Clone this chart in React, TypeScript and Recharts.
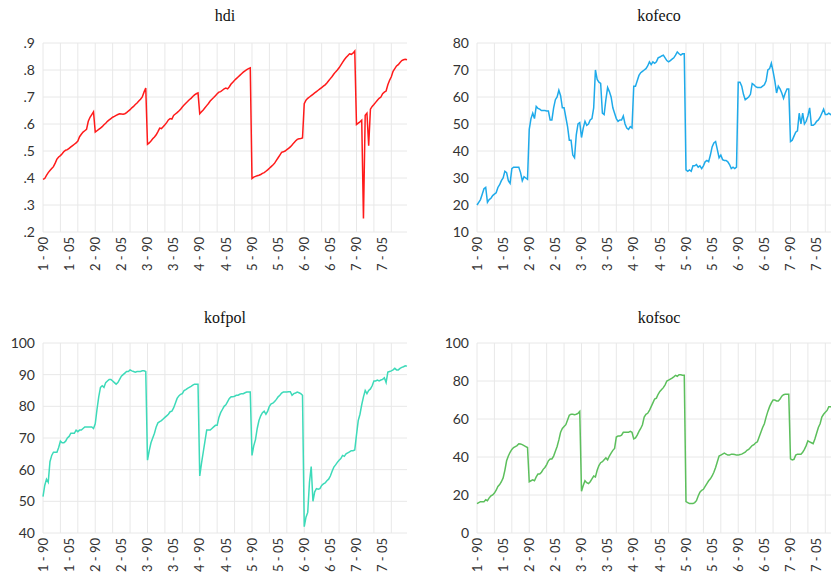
import React from 'react';
import { LineChart, Line, XAxis, YAxis, CartesianGrid } from 'recharts';

// Panel data: 7 countries x 30 years (1990-2019), in order
const COUNTRY_COUNT = 7;
const YEARS_PER_COUNTRY = 30;
const START_YEAR = 1990;

const hdi = [
  // country 1
  0.395, 0.398, 0.41, 0.42, 0.428, 0.435, 0.442, 0.455, 0.47, 0.478, 0.483, 0.49, 0.498, 0.503, 0.505, 0.51, 0.515, 0.52, 0.525, 0.53, 0.537, 0.553, 0.562, 0.57, 0.575, 0.58, 0.61, 0.625, 0.635, 0.645,
  // country 2
  0.57, 0.575, 0.58, 0.585, 0.59, 0.597, 0.603, 0.61, 0.615, 0.62, 0.625, 0.628, 0.632, 0.635, 0.638, 0.637, 0.636, 0.638, 0.642, 0.648, 0.653, 0.66, 0.665, 0.672, 0.678, 0.685, 0.692, 0.7, 0.718, 0.733,
  // country 3
  0.525, 0.53, 0.537, 0.545, 0.552, 0.56, 0.572, 0.585, 0.583, 0.59, 0.597, 0.605, 0.615, 0.62, 0.618, 0.632, 0.637, 0.642, 0.648, 0.655, 0.663, 0.67, 0.677, 0.683, 0.69, 0.695, 0.702, 0.708, 0.712, 0.715,
  // country 4
  0.638, 0.645, 0.652, 0.66, 0.668, 0.676, 0.685, 0.692, 0.698, 0.705, 0.712, 0.718, 0.72, 0.725, 0.73, 0.733, 0.73, 0.738, 0.748, 0.755, 0.762, 0.768, 0.774, 0.78, 0.786, 0.792, 0.797, 0.801, 0.805, 0.808,
  // country 5
  0.398, 0.403, 0.406, 0.408, 0.41, 0.413, 0.417, 0.42, 0.425, 0.43, 0.436, 0.442, 0.448, 0.455, 0.465, 0.475, 0.485, 0.495, 0.497, 0.5, 0.505, 0.51, 0.515, 0.522, 0.53, 0.537, 0.543, 0.545, 0.546, 0.548,
  // country 6
  0.675, 0.688, 0.695, 0.7, 0.705, 0.71, 0.715, 0.72, 0.725, 0.73, 0.735, 0.74, 0.745, 0.752, 0.76, 0.768, 0.776, 0.785, 0.793, 0.8, 0.808, 0.818, 0.828, 0.838, 0.846, 0.853, 0.86, 0.858, 0.862, 0.87,
  // country 7
  0.598, 0.603, 0.608, 0.614, 0.25, 0.632, 0.64, 0.52, 0.655, 0.665, 0.672, 0.68, 0.688, 0.695, 0.7, 0.712, 0.718, 0.722, 0.745, 0.762, 0.775, 0.795, 0.805, 0.815, 0.82, 0.828, 0.835, 0.838, 0.84, 0.838,
];

const kofeco = [
  20, 21, 22, 24, 26, 26.5, 21, 22, 22.5, 23.5, 24, 24.5, 26.5, 27.5, 29, 30, 32.5, 32, 29, 28, 33.5, 34, 34, 34, 34, 32, 29, 30.5, 30, 29.5,
  48, 52, 54, 52, 56.5, 55.8, 55.5, 55, 55, 55, 54.8, 54.8, 51.5, 51.5, 56, 59, 60, 62.5, 60.5, 56, 56, 52.5, 49, 44, 44, 38.5, 37.5, 46, 50, 50.5,
  45, 48.5, 51, 49.5, 50, 51.5, 52, 56, 70, 66.5, 65.5, 65, 54, 53.5, 59, 63.5, 62, 60, 56, 54, 52, 51, 51.5, 51.5, 53, 50, 48.5, 48, 49, 48.5,
  64, 64, 66, 68, 69, 69.5, 70, 70.5, 71.5, 73, 72, 73, 72.5, 73, 74.5, 74.8, 75.2, 75.5, 74.5, 73.5, 73, 73.5, 74, 74.5, 75.5, 76.7, 76, 75.5, 76, 76,
  33, 32.5, 33, 32.5, 34.5, 34.5, 35, 34, 34.5, 33.5, 34.5, 36, 36.5, 36, 38.5, 41.5, 43, 43.5, 40.5, 37.5, 38.5, 36.8, 36.5, 36.5, 36, 35, 33.5, 34, 33.5, 34,
  65.5, 65.5, 64, 61, 59, 59.5, 60, 61, 65, 64.5, 63.8, 63.5, 63.5, 63.5, 64, 64.5, 66, 70, 70.5, 72.5, 69.5, 66, 61.5, 64, 63, 61.5, 59.5, 61.5, 63, 63,
  43.5, 44, 45.5, 47, 47.5, 54, 50, 54, 50, 51, 53, 56, 49.5, 49.5, 50, 51, 51.5, 52.5, 54, 55.5, 53.5, 53.5, 54, 53.5, 54, 54.5, 55, 55.5, 56, 56,
];

const kofpol = [
  51.5, 55, 57, 56, 62.5, 64.5, 65.5, 65.5, 65.5, 67, 69, 68.5, 68.5, 69, 70, 70.5, 71.5, 71.5, 71.5, 72.5, 72, 72.5, 72.5, 73, 73.5, 73.5, 73.5, 73.5, 73.5, 73,
  74.5, 79, 83, 86, 86.5, 86, 87.5, 88, 88.5, 88.5, 88, 87.5, 87, 87.5, 88.5, 89.5, 90, 90.5, 91, 91, 91.5, 91.2, 91, 90.8, 91, 91, 91, 91.2, 91.2, 91,
  63, 66, 68.5, 70, 71.5, 73.5, 74.8, 75.2, 75.5, 76, 76.5, 77, 77.5, 78.3, 78.5, 79.5, 81, 82.5, 83.3, 83.8, 84, 85, 85.3, 85.7, 86, 86.3, 86.7, 87, 87, 87,
  58, 62, 65.5, 69, 72.5, 72.5, 72.5, 73, 73.5, 74, 74, 76.5, 78, 79, 80, 80.5, 81.5, 82.5, 83, 83, 83.2, 83.5, 83.5, 83.8, 84, 84, 84.3, 84.5, 84.5, 84.5,
  64.5, 67.5, 69.5, 73, 75.5, 77, 78, 78.5, 77.5, 78.5, 80, 80.8, 81, 81.5, 82.2, 83, 83.5, 84.2, 84.5, 84.5, 84.5, 84.6, 84.6, 83.5, 84, 84.2, 84.5, 84.3, 84, 83.5,
  42, 45, 46.5, 56, 61, 50, 53, 54, 53.8, 54, 55, 55.5, 55.8, 56.5, 57, 58, 59.5, 60.8, 61.5, 62.3, 63, 63.5, 64.5, 64.2, 65, 65.3, 65.6, 66, 66, 66.2,
  71, 75.5, 77.5, 80.5, 83, 85, 84, 85, 85.5, 86.5, 88, 88, 88.3, 88, 88.3, 88.5, 89, 87.5, 90.8, 91, 91.2, 91.5, 92, 91.5, 91.5, 92, 92.3, 92.5, 92.8, 92.7,
];

const kofsoc = [
  15.5, 16, 16.5, 16.5, 16.5, 17.5, 17, 18.5, 19.5, 20, 21, 22.5, 24.5, 25.5, 27, 29, 33, 38, 40.5, 42.5, 44, 45, 45.5, 46, 47, 46.8, 46.5, 46, 45.5, 45,
  27, 27.5, 28, 27.5, 29.5, 31, 31, 32, 33.5, 34.5, 36, 38, 39, 39, 40.5, 43, 45.5, 49, 53, 55, 56, 57, 59.5, 62, 62.5, 62.5, 62.3, 62.5, 63, 64,
  22, 25, 27.5, 26.5, 26, 27, 28.5, 30, 29.5, 33, 35.5, 37, 37.5, 38.5, 39.5, 38.5, 40.5, 42, 43.5, 44.5, 50.5, 51, 51, 51.5, 53, 53, 53, 53, 53.5, 53,
  49.5, 50, 51.5, 53.5, 55, 57, 61, 62.5, 63, 64.5, 66.5, 68.5, 70.5, 71, 73, 74.5, 75.5, 76.5, 78, 80, 80.5, 81, 81.5, 82.2, 83, 82.5, 83.3, 83.3, 83, 83,
  16.5, 16, 15.5, 15.5, 15.5, 16, 17, 19.5, 21.5, 22.5, 23, 24.5, 26, 27.5, 28.5, 30, 32, 34.5, 37.5, 40.5, 41, 41.5, 42, 41.5, 41, 41, 41.5, 41.5, 41.3, 41,
  41, 41.3, 41.5, 42, 42.5, 43.5, 44, 45, 46, 46.5, 47.5, 48, 50.5, 53, 55.5, 57.5, 61, 64, 66.5, 68.5, 70, 70, 69.5, 69.5, 70.5, 72, 72.8, 73, 73, 73,
  39, 38.5, 38.8, 41, 41.5, 41.5, 41.5, 42.5, 44, 46, 48.5, 48, 47.5, 47, 49.5, 52.5, 55.5, 57.5, 61, 62.5, 63.5, 64.5, 66.5, 66.5, 66, 66.5, 67, 67.5, 68, 68,
];

// Axis tick definitions
const xLabelTicks = [0, 15, 30, 45, 60, 75, 90, 105, 120, 135, 150, 165, 180, 195];
const xGridTicks = [0, 10, 20, 30, 40, 50, 60, 70, 80, 90, 100, 110, 120, 130, 140, 150, 160, 170, 180, 190, 200];
const hdiTicks = [0.2, 0.3, 0.4, 0.5, 0.6, 0.7, 0.8, 0.9];
const kofecoTicks = [10, 20, 30, 40, 50, 60, 70, 80];
const kofpolTicks = [40, 50, 60, 70, 80, 90, 100];
const kofsocTicks = [0, 20, 40, 60, 80, 100];

const LAST = COUNTRY_COUNT * YEARS_PER_COUNTRY - 1;

const toRows = (vals: number[]) => vals.map((v, i) => ({ i, v }));

const xLabel = (i: number) => {
  const c = Math.floor(i / YEARS_PER_COUNTRY) + 1;
  const y = START_YEAR + (i % YEARS_PER_COUNTRY);
  return `${c} - ${String(y % 100).padStart(2, '0')}`;
};

const TICK_FONT = 'Lato, "Open Sans", sans-serif';

const XTick = (props: any) => {
  const { x, y, payload } = props;
  return (
    <text
      transform={`translate(${x},${y}) rotate(-90)`}
      textAnchor="end"
      dy="0.36em"
      fontSize={13}
      fontFamily={TICK_FONT}
      fill="#333"
    >
      {xLabel(payload.value)}
    </text>
  );
};

const vGen = (args: any) => {
  const { xAxis, offset } = args || {};
  const s = xAxis && xAxis.scale;
  if (typeof s === 'function') return xGridTicks.map((v) => s(v));
  if (s && typeof s.map === 'function') return xGridTicks.map((v) => s.map(v));
  return xGridTicks.map((v) => offset.left + (v / LAST) * offset.width);
};

type PanelProps = {
  title: string;
  left: number;
  top: number;
  width: number;
  height: number;
  marginTop: number;
  marginRight: number;
  yWidth: number;
  xHeight: number;
  titleTop: number;
  domain: [number, number];
  ticks: number[];
  fmt: (v: number) => string;
  color: string;
  values: number[];
};

const Panel = (p: PanelProps) => {
  const plotLeft = p.yWidth;
  const plotRight = p.width - p.marginRight;
  return (
    <div style={{ position: 'absolute', left: p.left, top: p.top, width: p.width, height: p.height }}>
      <div
        style={{
          position: 'absolute',
          left: plotLeft,
          width: plotRight - plotLeft,
          top: p.titleTop,
          textAlign: 'center',
          fontFamily: '"Liberation Serif", "Times New Roman", serif',
          fontSize: 16,
          lineHeight: '20px',
          color: '#111',
        }}
      >
        {p.title}
      </div>
      <LineChart
        width={p.width}
        height={p.height}
        data={toRows(p.values)}
        margin={{ top: p.marginTop, right: p.marginRight, left: 0, bottom: 0 }}
      >
        <CartesianGrid stroke="#e8e8e8" strokeWidth={1} verticalCoordinatesGenerator={vGen} />
        <XAxis
          dataKey="i"
          type="number"
          domain={[0, LAST]}
          ticks={xLabelTicks}
          interval={0}
          height={p.xHeight}
          tick={<XTick />}
          tickLine={false}
          axisLine={false}
          tickSize={0}
          tickMargin={5}
        />
        <YAxis
          type="number"
          domain={p.domain}
          ticks={p.ticks}
          interval={0}
          width={p.yWidth}
          tickFormatter={p.fmt}
          tickLine={false}
          axisLine={false}
          tickSize={0}
          tickMargin={8}
          tick={{ fontSize: 14, fontFamily: TICK_FONT, fill: '#333' }}
        />
        <Line
          type="linear"
          dataKey="v"
          stroke={p.color}
          strokeWidth={1.5}
          dot={false}
          isAnimationActive={false}
        />
      </LineChart>
    </div>
  );
};

const fmtDec = (v: number) => {
  const s = v.toFixed(1);
  return s.startsWith('0') ? s.slice(1) : s;
};
const fmtInt = (v: number) => String(v);

export default function App() {
  return (
    <div
      style={{
        position: 'absolute',
        left: 0,
        top: 0,
        width: 831,
        height: 580,
        overflow: 'hidden',
        background: '#fff',
      }}
    >
      <Panel
        title="hdi"
        left={0}
        top={0}
        width={415}
        height={290}
        marginTop={43}
        marginRight={8}
        yWidth={43}
        xHeight={58}
        titleTop={6}
        domain={[0.2, 0.9]}
        ticks={hdiTicks}
        fmt={fmtDec}
        color="#ff1a1a"
        values={hdi}
      />
      <Panel
        title="kofeco"
        left={415}
        top={0}
        width={430}
        height={290}
        marginTop={43}
        marginRight={4}
        yWidth={62}
        xHeight={58}
        titleTop={6}
        domain={[10, 80]}
        ticks={kofecoTicks}
        fmt={fmtInt}
        color="#1eaaea"
        values={kofeco}
      />
      <Panel
        title="kofpol"
        left={0}
        top={290}
        width={415}
        height={290}
        marginTop={53}
        marginRight={8}
        yWidth={43}
        xHeight={47}
        titleTop={18}
        domain={[40, 100]}
        ticks={kofpolTicks}
        fmt={fmtInt}
        color="#3ddab9"
        values={kofpol}
      />
      <Panel
        title="kofsoc"
        left={415}
        top={290}
        width={430}
        height={290}
        marginTop={53}
        marginRight={4}
        yWidth={62}
        xHeight={47}
        titleTop={18}
        domain={[0, 100]}
        ticks={kofsocTicks}
        fmt={fmtInt}
        color="#5cbf5c"
        values={kofsoc}
      />
    </div>
  );
}
